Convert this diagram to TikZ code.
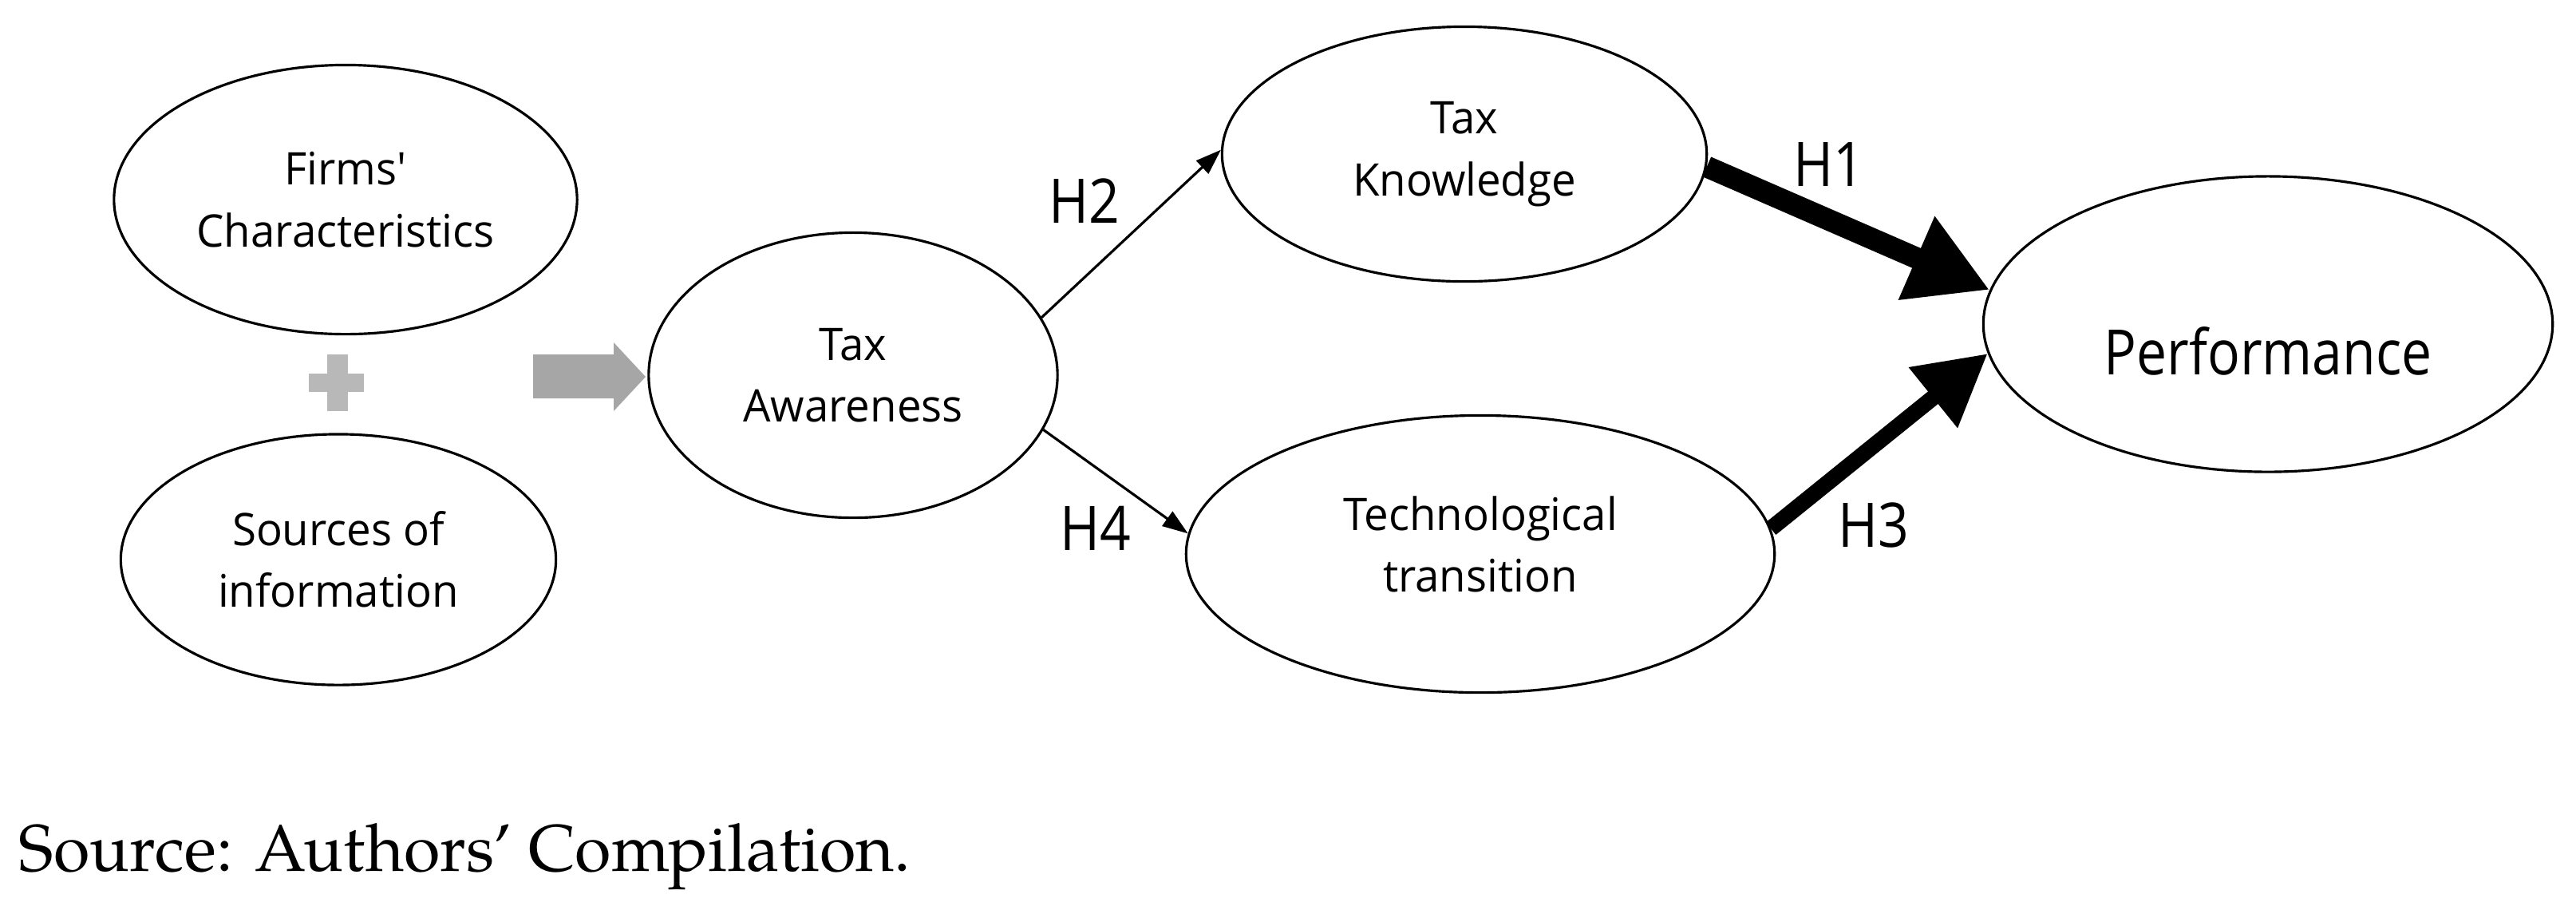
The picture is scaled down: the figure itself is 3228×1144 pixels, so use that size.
\documentclass[tikz,border=0pt]{standalone}
\usepackage{fontspec}
\newfontfamily\diagfont{Open Sans}[FakeStretch=0.97]
\newfontfamily\perffont{Open Sans}[FakeStretch=0.865]
\newfontfamily\hypfont{Open Sans}[FakeStretch=0.88]
\newfontfamily\capfont{texgyrepagella-regular.otf}
\usetikzlibrary{arrows.meta,shapes.geometric}
\definecolor{agray}{HTML}{A6A6A6}
\definecolor{pgray}{HTML}{B8B8B8}
\begin{document}
\begin{tikzpicture}[x=0.01cm,y=-0.01cm,
  oval/.style={draw, ellipse, line width=0.9pt, inner sep=0pt, align=center,
    font=\diagfont\fontsize{16}{22}\selectfont},
  hyp/.style={font=\hypfont\fontsize{21.9}{26}\selectfont, inner sep=0pt, anchor=base},
  thinarrow/.style={line width=0.9pt, -{Triangle[length=0.32cm,width=0.22cm]}},
  heavyA/.style={line width=0.27cm, -{Triangle[length=1.0cm,width=1.07cm]}},
  heavyB/.style={line width=0.20cm, -{Triangle[length=0.88cm,width=0.92cm]}}]
\useasboundingbox (0,0) rectangle (3228,1144);

% nodes
\node[oval, minimum width=5.80cm, minimum height=3.37cm] (firms) at (433,250) {Firms\textquotesingle\\Characteristics};
\node[oval, minimum width=5.45cm, minimum height=3.14cm] (sources) at (424,701) {Sources of\\information};
\node[oval, minimum width=5.12cm, minimum height=3.57cm] (ta) at (1069,470) {Tax\\Awareness};
\node[oval, minimum width=6.07cm, minimum height=3.19cm] (tk) at (1835,193) {Tax\\Knowledge};
\node[oval, minimum width=7.37cm, minimum height=3.47cm,
  label={[align=center, font=\diagfont\fontsize{16}{22}\selectfont, yshift=0.12cm]center:Technological\\transition}] (tt) at (1855,694) {};
\node[oval, minimum width=7.13cm, minimum height=3.70cm,
  label={[font=\perffont\fontsize{22.3}{26}\selectfont, yshift=-0.34cm]center:Performance}] (perf) at (2842,406) {};

% plus sign and block arrow
\fill[pgray] (410,444) rectangle (436,515);
\fill[pgray] (387,468) rectangle (456,491);
\fill[agray] (668,444) -- (769,444) -- (769,429) -- (809,472) -- (769,515) -- (769,499) -- (668,499) -- cycle;

% connectors
\draw[thinarrow] (ta.17) -- (tk.179);
\draw[thinarrow] (ta.-16) -- (tt.176.5);
\draw[heavyA] (tk.-3) -- (perf.173.6);
\draw[heavyB] (tt.5.6) -- (perf.186);

% hypothesis labels
\node[hyp] (h2) at (1359,279) {H2};
\node[hyp] (h4) at (1373,689) {H4};
\node[hyp] (h1) at (2292,233) {H1};
\node[hyp] (h3) at (2348,685) {H3};

% caption
\node[anchor=base west, inner sep=0pt] (cap) at (23,1091) {\resizebox{11.17cm}{!}{\capfont\fontsize{23.5}{28}\selectfont Source: Authors’ Compilation.}};
\end{tikzpicture}
\end{document}
